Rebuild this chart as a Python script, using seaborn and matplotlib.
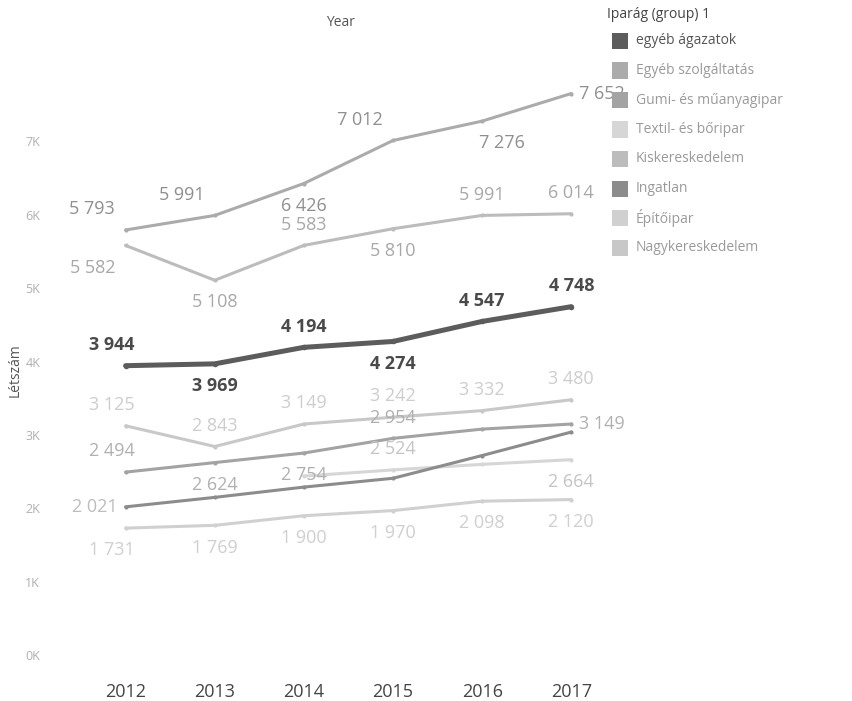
import numpy as np
import pandas as pd
import matplotlib
matplotlib.use('Agg')
import matplotlib.pyplot as plt
from matplotlib.patches import Rectangle
import seaborn as sns

# ---- data ----
years = [2012, 2013, 2014, 2015, 2016, 2017]

egyeb_agazatok = [3944, 3969, 4194, 4274, 4547, 4748]
egyeb_szolg = [5793, 5991, 6426, 7012, 7276, 7652]
kiskereskedelem = [5582, 5108, 5583, 5810, 5991, 6014]
nagykereskedelem = [3125, 2843, 3149, 3242, 3332, 3480]
gumi = [2494, 2624, 2754, 2954, 3080, 3149]
ingatlan = [2021, 2150, 2290, 2410, 2720, 3040]
textil = [np.nan, np.nan, 2440, 2524, 2600, 2664]
epitoipar = [1731, 1769, 1900, 1970, 2098, 2120]

legend_order = ['egyéb ágazatok', 'Egyéb szolgáltatás', 'Gumi- és műanyagipar',
                'Textil- és bőripar', 'Kiskereskedelem', 'Ingatlan', 'Építőipar',
                'Nagykereskedelem']

series = {
    'egyéb ágazatok': egyeb_agazatok,
    'Egyéb szolgáltatás': egyeb_szolg,
    'Gumi- és műanyagipar': gumi,
    'Textil- és bőripar': textil,
    'Kiskereskedelem': kiskereskedelem,
    'Ingatlan': ingatlan,
    'Építőipar': epitoipar,
    'Nagykereskedelem': nagykereskedelem,
}

# ---- styles ----
colors = {
    'egyéb ágazatok': '#5c5c5c',
    'Egyéb szolgáltatás': '#ababab',
    'Gumi- és műanyagipar': '#a3a3a3',
    'Textil- és bőripar': '#d6d6d6',
    'Kiskereskedelem': '#bcbcbc',
    'Ingatlan': '#8c8c8c',
    'Építőipar': '#d0d0d0',
    'Nagykereskedelem': '#c8c8c8',
}
label_colors = {
    'egyéb ágazatok': '#4a4a4a',
    'Egyéb szolgáltatás': '#8f8f8f',
    'Gumi- és műanyagipar': '#b0b0b0',
    'Textil- és bőripar': '#c4c4c4',
    'Kiskereskedelem': '#a8a8a8',
    'Ingatlan': '#bdbdbd',
    'Építőipar': '#cfcfcf',
    'Nagykereskedelem': '#cdcdcd',
}
# label placement per point: a=above, b=below, l/L = shift left, r = shift right, '' = hidden
label_pos = {
    'egyéb ágazatok': ['al', 'b', 'a', 'b', 'a', 'a'],
    'Egyéb szolgáltatás': ['aL', 'aL', 'b', 'aL', 'br', 'r'],
    'Kiskereskedelem': ['bL', 'b', 'a', 'b', 'a', 'a'],
    'Nagykereskedelem': ['al', 'a', 'a', 'a', 'a', 'a'],
    'Gumi- és műanyagipar': ['al', 'b', 'b', 'a', '', 'r'],
    'Ingatlan': ['l', '', '', '', '', ''],
    'Textil- és bőripar': ['', '', '', 'a', '', 'b'],
    'Építőipar': ['bl', 'b', 'b', 'b', 'b', 'b'],
}

sns.set_theme(style='white')
plt.rcParams['font.family'] = ['Open Sans', 'DejaVu Sans']

fig = plt.figure(figsize=(8.52, 7.01), dpi=100)
ax = fig.add_axes([0.070, 0.044, 0.6455, 0.8916])

draw_order = ['Építőipar', 'Textil- és bőripar', 'Ingatlan', 'Gumi- és műanyagipar',
              'Nagykereskedelem', 'Kiskereskedelem', 'Egyéb szolgáltatás', 'egyéb ágazatok']

for name in draw_order:
    df = pd.DataFrame({'Year': years, 'Létszám': series[name]}).dropna()
    lw = 3.6 if name == 'egyéb ágazatok' else 2.2
    sns.lineplot(data=df, x='Year', y='Létszám', color=colors[name], linewidth=lw,
                 marker='o', markersize=4 if name == 'egyéb ágazatok' else 3,
                 markeredgewidth=0, ax=ax)

    for i, (yr, v) in enumerate(zip(years, series[name])):
        code = label_pos[name][i]
        if not code or np.isnan(v):
            continue
        dx, dy = 0, 0
        if 'a' in code:
            dy = 15
        if 'b' in code:
            dy = -16
        if 'l' in code:
            dx = -22 if dy == 0 else -10
        if 'L' in code:
            dx = -24
        if 'r' in code:
            dx = 22 if dy == 0 else 14
        txt = f'{int(v):,}'.replace(',', ' ')
        ax.annotate(txt, (yr, v), xytext=(dx, dy), textcoords='offset points',
                    ha='center', va='center', fontsize=13,
                    color=label_colors[name],
                    fontweight='bold' if name == 'egyéb ágazatok' else 'normal')

ax.set_xlim(2011.26, 2017.43)
ax.set_ylim(-204, 8311)
ax.set_xticks(years)
ax.set_xticklabels([str(y) for y in years])
ax.set_yticks(range(0, 8000, 1000))
ax.set_yticklabels([f'{k}K' for k in range(8)])
ax.tick_params(axis='x', length=0, pad=9, labelsize=13, labelcolor='#444444')
ax.tick_params(axis='y', length=0, pad=14, labelsize=9, labelcolor='#b0b0b0')
ax.set_xlabel('')
ax.set_ylabel('')
for s in ax.spines.values():
    s.set_visible(False)

fig.text(15 / 852, 0.472, 'Létszám', rotation=90, ha='center', va='center',
         fontsize=10, color='#555555')
fig.text(340 / 852, 1 - 22 / 701, 'Year', ha='center', va='center',
         fontsize=10, color='#555555')

# legend drawn by hand (Tableau style colour list)
W, H = 852, 701
fig.text(607 / W, 1 - 15 / H, 'Iparág (group) 1', ha='left', va='center',
         fontsize=10, color='#444444')
for i, name in enumerate(legend_order):
    yc = 41 + i * 29.5
    fig.patches.append(Rectangle((612 / W, 1 - (yc + 8) / H), 16 / W, 16 / H,
                                 transform=fig.transFigure, facecolor=colors[name],
                                 edgecolor='none'))
    fig.text(636 / W, 1 - yc / H, name, ha='left', va='center', fontsize=10,
             color='#555555' if i == 0 else '#9a9a9a')

fig.savefig('out.png', dpi=100)
